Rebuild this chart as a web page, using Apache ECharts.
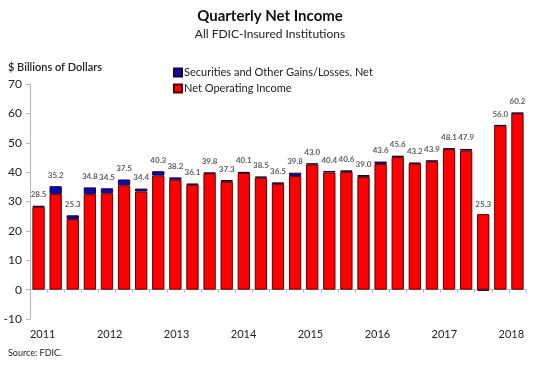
<!DOCTYPE html>
<html><head><meta charset="utf-8">
<script src="https://cdn.jsdelivr.net/npm/echarts@6/dist/echarts.min.js"></script>
<style>html,body{margin:0;padding:0;background:#fff}#c{width:540px;height:366px}</style>
</head><body><div id="c"></div>
<script>
const quarters = ['2011Q2','2011Q3','2011Q4','2012Q1','2012Q2','2012Q3','2012Q4','2013Q1','2013Q2','2013Q3','2013Q4','2014Q1','2014Q2','2014Q3','2014Q4','2015Q1','2015Q2','2015Q3','2015Q4','2016Q1','2016Q2','2016Q3','2016Q4','2017Q1','2017Q2','2017Q3','2017Q4','2018Q1','2018Q2'];
const totals = [28.5,35.2,25.3,34.8,34.5,37.5,34.4,40.3,38.2,36.1,39.8,37.3,40.1,38.5,36.5,39.8,43.0,40.4,40.6,39.0,43.6,45.6,43.2,43.9,48.1,47.9,25.3,56.0,60.2];
const securities = [0.3,2.6,1.3,2.3,1.7,2.0,1.0,1.5,0.8,0.4,0.2,0.6,0.4,0.4,0.5,1.1,0.4,0.5,0.5,0.6,0.8,0.5,0.3,0.2,0.3,0.6,-0.4,0.2,0.2];
const operating = [28.2,32.6,24.0,32.5,32.8,35.5,33.4,38.8,37.4,35.7,39.6,36.7,39.7,38.1,36.0,38.7,42.6,39.9,40.1,38.4,42.8,45.1,42.9,43.7,47.8,47.3,25.7,55.8,60.0];
const yearLabels = [2011,2012,2013,2014,2015,2016,2017,2018];

const font = 'Lato';
const chart = echarts.init(document.getElementById('c'));
chart.setOption({
  animation: false,
  textStyle: {fontFamily: font},
  title: [
    {text: 'Quarterly Net Income', left: 'center', top: 4,
     textStyle: {fontFamily: font, fontSize: 15, fontWeight: 'bold', color: '#111'}},
    {text: 'All FDIC-Insured Institutions', left: 'center', top: 23,
     textStyle: {fontFamily: font, fontSize: 12, fontWeight: 'normal', color: '#222'}},
    {text: '$ Billions of Dollars', left: 3, top: 57,
     textStyle: {fontFamily: font, fontSize: 11, fontWeight: 600, color: '#222'}},
    {text: 'Source: FDIC.', left: 3, top: 344,
     textStyle: {fontFamily: font, fontSize: 9, fontWeight: 'normal', color: '#222'}}
  ],
  legend: {
    orient: 'vertical', left: 168, top: 62, itemWidth: 8, itemHeight: 8, itemGap: 5,
    data: ['Securities and Other Gains/Losses, Net', 'Net Operating Income'],
    textStyle: {fontFamily: font, fontSize: 11, color: '#222', padding: [0,0,0,-3]},
    icon: 'rect'
  },
  grid: {left: 30, right: 14, top: 84, bottom: 47},
  xAxis: [
    {type: 'category', data: quarters, boundaryGap: true,
     axisLine: {onZero: true, lineStyle: {color: '#b8b8b8'}},
     axisTick: {show: true, interval: 0, length: 3, lineStyle: {color: '#b8b8b8'}},
     axisLabel: {show: false}},
    {type: 'value', position: 'bottom', min: 2010.81, max: 2018.22,
     axisLine: {show: false, onZero: false}, axisTick: {show: false}, splitLine: {show: false},
     axisLabel: {customValues: yearLabels, margin: 10, fontSize: 11, color: '#222', fontFamily: font,
                 formatter: v => String(Math.round(v))}}
  ],
  yAxis: {
    type: 'value', min: -10, max: 70, interval: 10,
    axisLine: {show: true, lineStyle: {color: '#b8b8b8'}},
    axisTick: {show: true, length: 4, lineStyle: {color: '#b8b8b8'}},
    splitLine: {show: false},
    axisLabel: {fontSize: 12, color: '#222', fontFamily: font, margin: 8}
  },
  series: [
    {name: 'Net Operating Income', type: 'bar', stack: 'ni', data: operating, barCategoryGap: '28%',
     itemStyle: {color: '#ff0000', borderColor: '#5a0000', borderWidth: 1}},
    {name: 'Securities and Other Gains/Losses, Net', type: 'bar', stack: 'ni', data: securities,
     itemStyle: {color: '#0a0ab4', borderColor: '#200030', borderWidth: 1}},
    {name: 'labels', type: 'scatter', data: totals, symbolSize: 0, silent: true,
     label: {show: true, position: 'top', distance: 7, fontSize: 8, fontWeight: 'bold', color: '#333', fontFamily: font,
             formatter: p => p.value.toFixed(1)}}
  ]
});
</script></body></html>
